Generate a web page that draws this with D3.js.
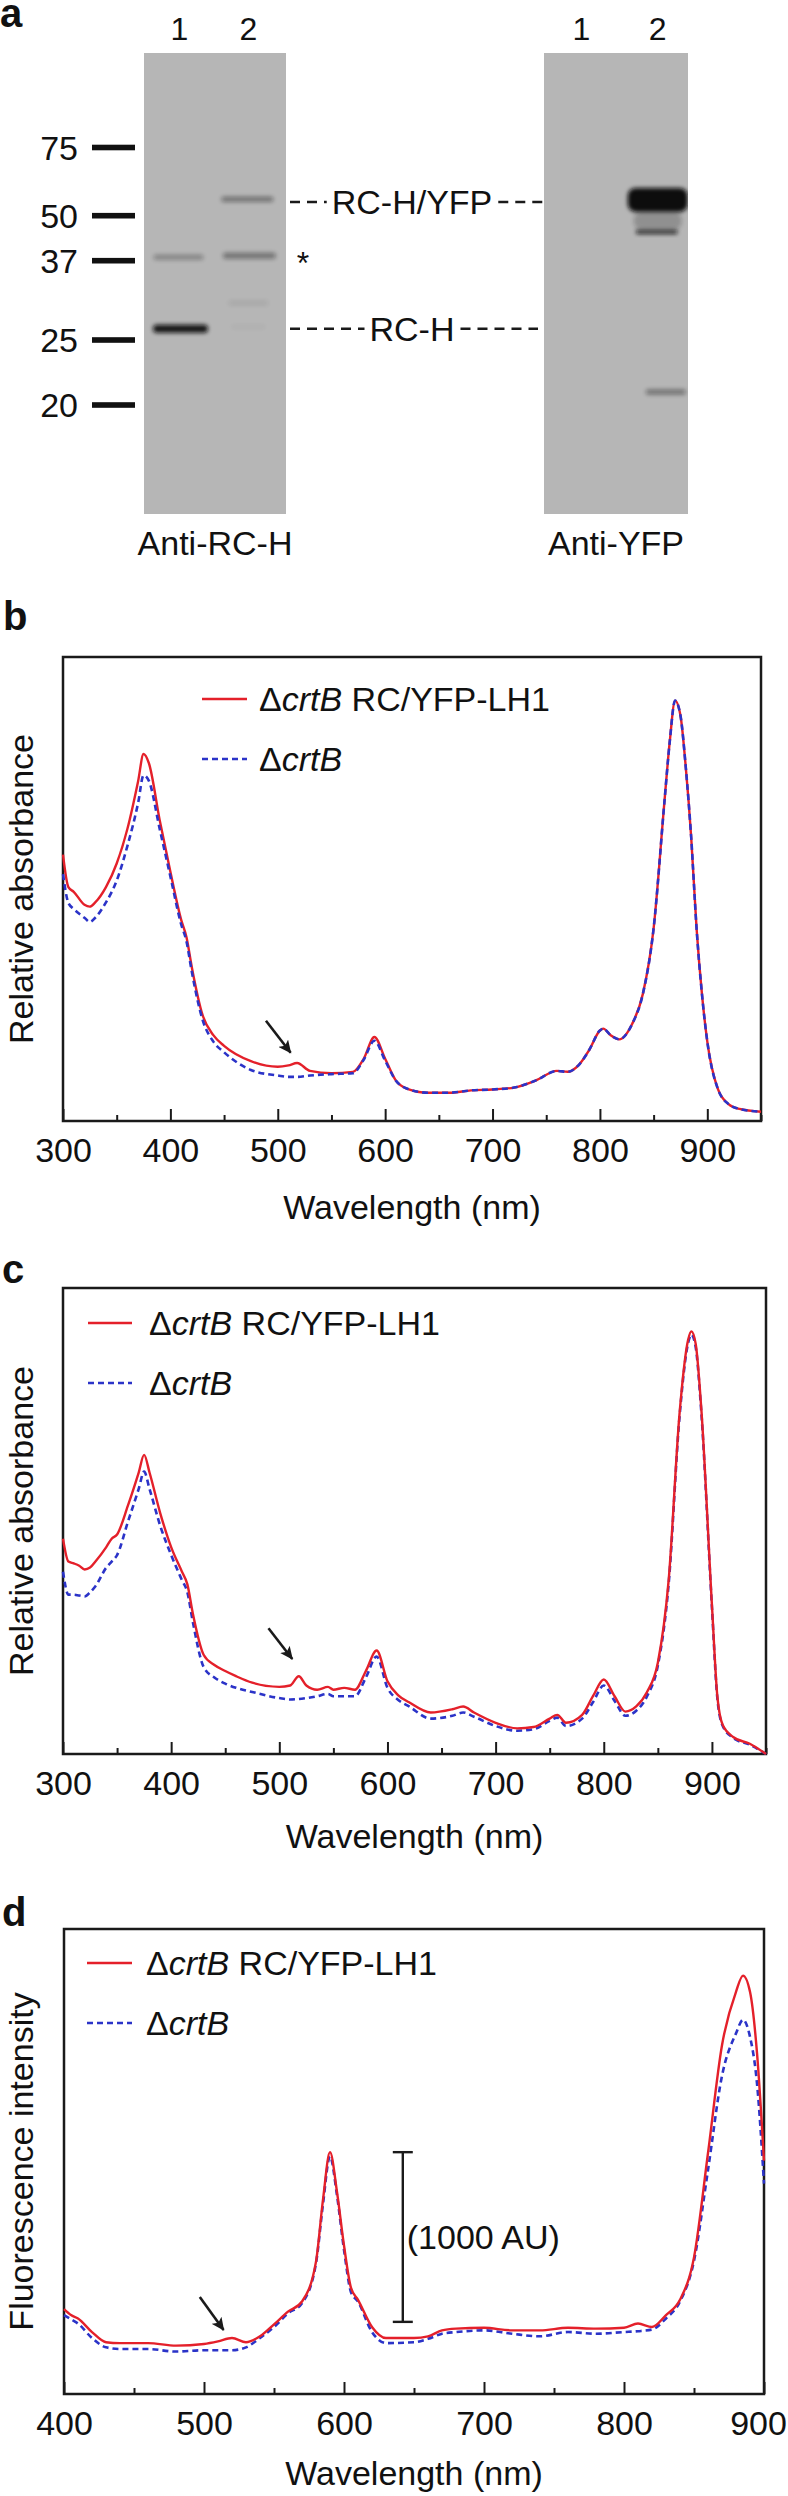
<!DOCTYPE html>
<html><head><meta charset="utf-8">
<script src="https://cdn.jsdelivr.net/npm/d3@7"></script>
<style>
body{margin:0;background:#fff;}
svg text{font-family:"Liberation Sans",Arial,Helvetica,sans-serif;fill:#111;}
</style></head><body>
<svg id="fig" width="788" height="2496" xmlns="http://www.w3.org/2000/svg"></svg>
<script>
// ---------------- DATA ----------------
// Panel a (western blots)
const markerKDa = [75, 50, 37, 25, 20];
const markerLabels = ["75", "50", "37", "25", "20"];
const gelTitles = ["Anti-RC-H", "Anti-YFP"];
const laneLabels = ["1", "2"];
const bandGel = [0, 0, 0, 0, 0, 0, 1, 1, 1, 1];
const bandLane = [0, 0, 1, 1, 1, 1, 1, 1, 1, 1];
const bandKDa = [38, 26.7, 56, 38.4, 30.6, 27, 55.8, 48.5, 45.3, 21];
const bandIntensity = [0.3, 0.95, 0.42, 0.4, 0.08, 0.04, 1, 0.22, 0.85, 0.42];
const leaderLabels = ["RC-H/YFP", "RC-H"];
const leaderKDa = [55, 26.7];

// Panel b: absorbance
const wlB = [300,305,310,320,325,330,340,350,360,370,375,380,390,400,410,415,420,430,440,450,475,500,510,518,530,550,570,580,590,600,610,620,640,660,680,700,720,740,760,770,780,790,800,803,810,818,830,840,850,860,865,870,875,880,885,890,895,900,910,920,930,950];
const redB = [.574,.504,.494,.466,.462,.471,.504,.555,.630,.733,.791,.771,.649,.537,.434,.396,.331,.228,.185,.162,.129,.117,.120,.125,.108,.103,.106,.134,.181,.134,.087,.070,.061,.061,.066,.068,.072,.087,.108,.106,.120,.153,.195,.199,.185,.176,.209,.274,.415,.686,.817,.906,.874,.761,.611,.415,.274,.171,.068,.036,.026,.020];
const blueB = [.532,.470,.457,.438,.429,.438,.471,.518,.593,.686,.745,.733,.630,.527,.424,.387,.321,.218,.171,.148,.110,.098,.095,.095,.098,.101,.103,.132,.173,.130,.087,.070,.061,.061,.066,.068,.072,.087,.108,.106,.120,.153,.195,.199,.185,.176,.209,.274,.415,.686,.817,.906,.874,.761,.611,.415,.274,.171,.068,.036,.026,.020];

// Panel c: absorbance
const wlC = [300,305,310,315,320,325,330,340,345,350,360,370,375,380,390,400,410,415,420,430,440,450,460,475,500,510,518,525,535,545,550,560,570,580,590,600,610,620,640,660,670,680,700,720,735,750,757,765,780,790,800,810,820,830,840,850,860,870,878,881,885,890,900,905,910,920,935,950];
const redC = [.462,.413,.409,.404,.396,.400,.413,.444,.462,.471,.533,.604,.642,.604,.516,.444,.391,.364,.302,.213,.191,.178,.167,.153,.144,.147,.167,.147,.138,.144,.138,.142,.138,.178,.222,.156,.126,.111,.089,.096,.102,.089,.067,.055,.058,.076,.084,.067,.084,.124,.160,.124,.091,.102,.133,.196,.373,.729,.889,.907,.880,.747,.320,.124,.062,.036,.022,.000];
const blueC = [.391,.342,.342,.340,.338,.347,.360,.400,.413,.427,.498,.569,.606,.569,.489,.427,.373,.347,.284,.187,.164,.151,.142,.133,.120,.117,.118,.120,.124,.129,.124,.124,.124,.164,.209,.142,.116,.102,.076,.082,.089,.080,.060,.050,.053,.071,.078,.060,.076,.111,.147,.114,.082,.093,.124,.190,.365,.722,.882,.900,.873,.740,.315,.120,.060,.034,.020,.000];

// Panel d: fluorescence (AU)
const wlD = [400,405,410,420,430,440,460,480,500,510,520,530,540,550,560,570,580,585,590,595,600,605,610,620,630,650,660,670,680,700,720,740,760,780,800,810,820,830,840,850,860,870,880,885,890,895,900];
const redD = [500,465,445,365,305,300,300,285,295,310,330,305,340,410,485,545,780,1145,1425,1190,875,625,555,395,330,330,340,375,385,390,375,375,390,385,390,415,395,465,555,805,1420,2055,2370,2465,2370,2010,1375];
const blueD = [465,440,415,330,275,265,265,250,258,258,258,275,330,395,475,535,770,1120,1400,1170,850,600,545,365,300,305,325,355,365,375,355,340,365,355,365,370,380,445,545,785,1320,1875,2125,2205,2105,1830,1240];
const scaleBarAU = 1000;

const majorB = [300,400,500,600,700,800,900];
const minorB = [350,450,550,650,750,850,950];
const majorD = [400,500,600,700,800,900];
const minorD = [450,550,650,750,850];

// ---------------- DRAWING ----------------
const svg = d3.select("#fig");
const RED = "#e4202a", BLUE = "#2b33c8", INK = "#1a1a1a";
const defs = svg.append("defs");
defs.append("filter").attr("id","blur").attr("x","-30%").attr("y","-100%").attr("width","160%").attr("height","300%")
  .append("feGaussianBlur").attr("stdDeviation", 1.9);
defs.append("marker").attr("id","arrow").attr("markerUnits","userSpaceOnUse")
  .attr("markerWidth",14).attr("markerHeight",12).attr("refX",12).attr("refY",6).attr("orient","auto")
  .append("path").attr("d","M0,0 L13,6 L0,12 L3,6 z").attr("fill",INK);

function letter(t, x, y) {
  svg.append("text").attr("x", x).attr("y", y).attr("font-size", 40).attr("font-weight", "bold").text(t);
}

// ---- Panel a ----
letter("a", 0, 27);
const gelTop = 53, gelBottom = 514;
const gelX = [[144, 286], [544, 688]];
const laneFrac = [[0.25, 0.735], [0.26, 0.79]];
const kdaY = d3.scaleLinear().domain(markerKDa).range([147.5, 215.7, 260.7, 340, 405]);
const bandShape = [
  {w:50,h:5,dx:-1}, {w:55,h:8,dx:1}, {w:52,h:5,dx:-1}, {w:53,h:6,dx:1}, {w:40,h:5,dx:0}, {w:34,h:4,dx:0},
  {w:60,h:24,dx:0}, {w:48,h:18,dx:0}, {w:42,h:4,dx:-1}, {w:40,h:5,dx:8}
];

gelX.forEach((gx, gi) => {
  svg.append("rect").attr("x", gx[0]).attr("y", gelTop).attr("width", gx[1]-gx[0]).attr("height", gelBottom-gelTop)
    .attr("fill", "#b6b6b6");
  laneLabels.forEach((l, li) => {
    svg.append("text").attr("x", gx[0] + laneFrac[gi][li]*(gx[1]-gx[0])).attr("y", 40)
      .attr("font-size", 32).attr("text-anchor", "middle").text(l);
  });
  svg.append("text").attr("x", (gx[0]+gx[1])/2).attr("y", 555).attr("font-size", 34)
    .attr("text-anchor", "middle").text(gelTitles[gi]);
});
const gelClip = defs.append("clipPath").attr("id","gelclip");
gelX.forEach(gx => gelClip.append("rect").attr("x",gx[0]).attr("y",gelTop).attr("width",gx[1]-gx[0]).attr("height",gelBottom-gelTop));
const bandG = svg.append("g").attr("clip-path","url(#gelclip)");
bandKDa.forEach((k, i) => {
  const gx = gelX[bandGel[i]];
  const cx = gx[0] + laneFrac[bandGel[i]][bandLane[i]]*(gx[1]-gx[0]) + bandShape[i].dx;
  const s = bandShape[i];
  bandG.append("rect").attr("x", cx - s.w/2).attr("y", kdaY(k) - s.h/2).attr("width", s.w).attr("height", s.h)
    .attr("rx", Math.min(s.h/2, 8)).attr("fill", "#0c0c0c").attr("opacity", bandIntensity[i])
    .attr("filter", "url(#blur)");
});

markerKDa.forEach((k, i) => {
  svg.append("rect").attr("x", 92).attr("y", kdaY(k) - 2.8).attr("width", 43).attr("height", 5.6).attr("fill", "#111");
  svg.append("text").attr("x", 78).attr("y", kdaY(k)).attr("dy", "0.36em").attr("font-size", 34)
    .attr("text-anchor", "end").text(markerLabels[i]);
});
svg.append("text").attr("x", 303).attr("y", 274).attr("font-size", 32).attr("text-anchor", "middle").text("*");

leaderLabels.forEach((lab, i) => {
  const yy = kdaY(leaderKDa[i]);
  const t = svg.append("text").attr("x", 412).attr("y", yy).attr("dy", "0.36em").attr("font-size", 34)
    .attr("text-anchor", "middle").text(lab);
  const w = t.node().getComputedTextLength();
  const segs = [[gelX[0][1] + 4, 412 - w/2 - 5], [412 + w/2 + 6, gelX[1][0] + (i === 0 ? 2 : -6)]];
  segs.forEach(sg => svg.append("line").attr("x1", sg[0]).attr("x2", sg[1]).attr("y1", yy).attr("y2", yy)
    .attr("stroke", INK).attr("stroke-width", 2.4).attr("stroke-dasharray", "10,7"));
});

// ---- Spectra panels ----
function legend(p) {
  const rows = [{c: RED, dash: null, y: p.legY[0], extra: " RC/YFP-LH1"}, {c: BLUE, dash: "6,4", y: p.legY[1], extra: ""}];
  rows.forEach(r => {
    svg.append("line").attr("x1", p.legX[0]).attr("x2", p.legX[1]).attr("y1", r.y).attr("y2", r.y)
      .attr("stroke", r.c).attr("stroke-width", 2.6).attr("stroke-dasharray", r.dash);
    const t = svg.append("text").attr("x", p.legX[2]).attr("y", r.y).attr("dy", "0.36em").attr("font-size", 34)
      .style("white-space", "pre");
    t.append("tspan").text("\u0394");
    t.append("tspan").attr("font-style", "italic").text("crtB");
    if (r.extra) t.append("tspan").text(r.extra);
  });
}

function drawPanel(p) {
  const x = d3.scaleLinear().domain(p.xDom).range([p.left, p.right]);
  const y = d3.scaleLinear().domain(p.yDom).range([p.bottom, p.top]);
  letter(p.letter, p.letterX, p.letterY);
  const ax1 = svg.append("g").attr("transform", `translate(0,${p.bottom})`)
    .call(d3.axisBottom(x).tickValues(p.minor).tickSize(-6).tickFormat(""));
  const ax2 = svg.append("g").attr("transform", `translate(0,${p.bottom})`)
    .call(d3.axisBottom(x).tickValues(p.major).tickSize(-12).tickPadding(17).tickFormat(d3.format("d")));
  [ax1, ax2].forEach(a => {
    a.select(".domain").remove();
    a.selectAll(".tick line").attr("stroke", INK).attr("stroke-width", 2);
    a.attr("font-size", 34).attr("font-family", null);
    a.selectAll("text").attr("fill", "#111");
  });
  if (p.lastLabelShift) {
    ax2.selectAll(".tick text").filter(d => d === p.xDom[1]).attr("dx", p.lastLabelShift);
  }
  svg.append("rect").attr("x", p.left).attr("y", p.top).attr("width", p.right - p.left).attr("height", p.bottom - p.top)
    .attr("fill", "none").attr("stroke", INK).attr("stroke-width", 2.5);
  svg.append("text").attr("x", (p.left + p.right)/2).attr("y", p.bottom + p.xlabOff).attr("dy", "0.36em")
    .attr("font-size", 34).attr("text-anchor", "middle").text("Wavelength (nm)");
  svg.append("text").attr("transform", `translate(21,${(p.top + p.bottom)/2}) rotate(-90)`).attr("dy", "0.36em")
    .attr("font-size", 34).attr("text-anchor", "middle").text(p.ylab);
  const line = d3.line().x(d => x(d[0])).y(d => y(d[1])).curve(d3.curveMonotoneX);
  const red = svg.append("path").datum(p.wl.map((w, i) => [w, p.red[i]])).attr("d", line)
    .attr("fill", "none").attr("stroke", RED).attr("stroke-width", 2.4);
  const blue = svg.append("path").datum(p.wl.map((w, i) => [w, p.blue[i]])).attr("d", line)
    .attr("fill", "none").attr("stroke", BLUE).attr("stroke-width", 2.6).attr("stroke-dasharray", "6,4");
  if (!p.blueOnTop) red.raise();
  svg.append("line").attr("x1", x(p.arrow[0][0])).attr("y1", y(p.arrow[0][1]))
    .attr("x2", x(p.arrow[1][0])).attr("y2", y(p.arrow[1][1]))
    .attr("stroke", INK).attr("stroke-width", 2.6).attr("marker-end", "url(#arrow)");
  legend(p);
  return {x, y};
}

drawPanel({letter: "b", letterX: 3, letterY: 630, left: 63, right: 761, top: 657, bottom: 1121,
  xDom: [300, 950], yDom: [0, 1], major: majorB, minor: minorB, wl: wlB, red: redB, blue: blueB,
  blueOnTop: true, ylab: "Relative absorbance", arrow: [[489, 0.216], [512, 0.147]],
  legX: [202, 247, 259], legY: [699, 759], xlabOff: 86});

drawPanel({letter: "c", letterX: 2, letterY: 1283, left: 63, right: 766, top: 1288, bottom: 1754,
  xDom: [300, 950], yDom: [0, 1], major: majorB, minor: minorB, wl: wlC, red: redC, blue: blueC,
  blueOnTop: false, ylab: "Relative absorbance", arrow: [[490, 0.270], [512, 0.204]],
  legX: [88, 132, 149], legY: [1323, 1383], xlabOff: 82});

const pd = drawPanel({letter: "d", letterX: 2, letterY: 1926, left: 64, right: 764, top: 1929, bottom: 2394,
  xDom: [400, 900], yDom: [0, 2740], major: majorD, minor: minorD, wl: wlD, red: redD, blue: blueD,
  blueOnTop: false, ylab: "Fluorescence intensity", arrow: [[497, 572], [514, 377]],
  legX: [87, 132, 146], legY: [1963, 2023], xlabOff: 79, lastLabelShift: -6});

// scale bar (1000 AU)
const sbX = pd.x(642), sbB = pd.y(425), sbT = pd.y(425 + scaleBarAU);
svg.append("line").attr("x1", sbX).attr("x2", sbX).attr("y1", sbT).attr("y2", sbB).attr("stroke", INK).attr("stroke-width", 2.4);
[sbT, sbB].forEach(v => svg.append("line").attr("x1", sbX - 10).attr("x2", sbX + 10).attr("y1", v).attr("y2", v)
  .attr("stroke", INK).attr("stroke-width", 2.4));
svg.append("text").attr("x", sbX + 4).attr("y", (sbT + sbB)/2).attr("dy", "0.36em").attr("font-size", 34)
  .text("(" + scaleBarAU + " AU)");
</script>
</body></html>
